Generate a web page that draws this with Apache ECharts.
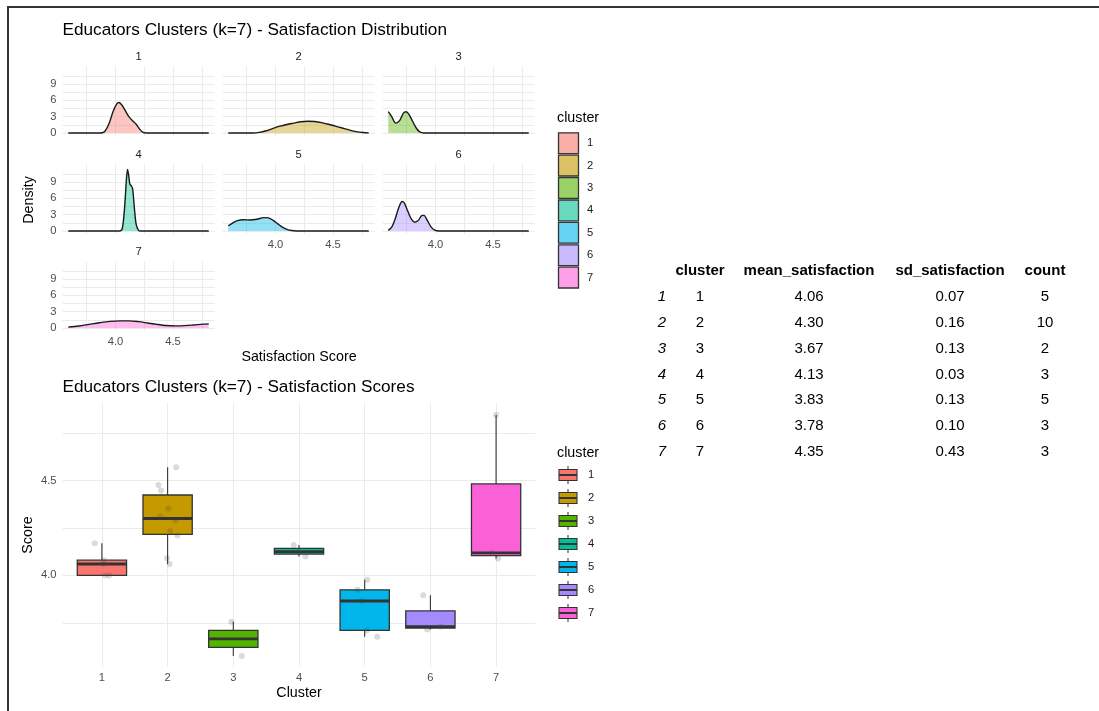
<!DOCTYPE html>
<html>
<head>
<meta charset="utf-8">
<script src="https://cdn.jsdelivr.net/npm/echarts@6/dist/echarts.min.js"></script>
<style>
  html, body { margin: 0; padding: 0; background: #ffffff; }
  #chart { width: 1099px; height: 711px; }
</style>
</head>
<body>
<div id="chart"></div>
<script>
// ---- cluster identity ----
const clusters = ['1', '2', '3', '4', '5', '6', '7'];
const clusterColors = ['#F8766D', '#C49A00', '#53B400', '#00C094', '#00B6EB', '#A58AFF', '#FB61D7'];

// ---- estimated satisfaction densities per cluster: [score, density] ----
const density1 = [[3.59,0],[3.86,0],[3.90,0.15],[3.94,1.5],[3.98,4.0],[4.01,5.3],[4.03,5.6],[4.06,5.0],[4.09,3.9],[4.12,2.9],[4.15,2.2],[4.18,1.6],[4.21,0.7],[4.24,0.1],[4.27,0],[4.81,0]];
const density2 = [[3.59,0],[3.80,0],[3.86,0.1],[3.92,0.4],[3.98,0.85],[4.04,1.25],[4.10,1.55],[4.16,1.8],[4.22,2.05],[4.28,2.15],[4.34,2.1],[4.40,1.9],[4.46,1.6],[4.52,1.25],[4.58,0.9],[4.64,0.55],[4.70,0.25],[4.76,0.08],[4.81,0.02]];
const density3 = [[3.59,3.9],[3.62,3.0],[3.655,1.8],[3.69,2.3],[3.72,3.6],[3.745,3.9],[3.77,3.4],[3.80,2.2],[3.83,1.0],[3.86,0.25],[3.90,0],[4.81,0]];
const density4 = [[3.59,0],[4.04,0],[4.06,0.5],[4.08,4.5],[4.095,9.5],[4.105,11.3],[4.115,10.2],[4.125,8.6],[4.14,8.2],[4.15,7.6],[4.165,4.0],[4.18,1.2],[4.20,0.1],[4.22,0],[4.81,0]];
const density5 = [[3.59,0.95],[3.63,1.5],[3.67,1.9],[3.72,2.05],[3.78,2.0],[3.84,2.15],[3.90,2.45],[3.94,2.4],[3.98,1.95],[4.02,1.3],[4.06,0.7],[4.10,0.3],[4.14,0.08],[4.18,0],[4.81,0]];
const density6 = [[3.59,0.1],[3.62,0.7],[3.65,2.2],[3.68,4.2],[3.71,5.4],[3.73,5.1],[3.76,3.6],[3.79,2.2],[3.82,1.6],[3.85,1.9],[3.88,2.8],[3.90,2.85],[3.93,1.9],[3.96,0.8],[3.99,0.2],[4.03,0],[4.81,0]];
const density7 = [[3.59,0.15],[3.68,0.35],[3.77,0.65],[3.86,0.95],[3.95,1.2],[4.04,1.3],[4.12,1.3],[4.20,1.15],[4.28,0.9],[4.36,0.65],[4.44,0.45],[4.52,0.38],[4.60,0.42],[4.68,0.55],[4.76,0.7],[4.81,0.75]];
const densityCurves = [density1, density2, density3, density4, density5, density6, density7];

// ---- facet axis ticks ----
const densityXGrid = [3.75, 4.0, 4.25, 4.5, 4.75];
const densityXLabels = [4.0, 4.5];
const densityYGrid = [0, 1.5, 3, 4.5, 6, 7.5, 9, 10.5];
const densityYLabels = [0, 3, 6, 9];

// ---- boxplot statistics per cluster: [min, Q1, median, Q3, max] ----
const boxStats = [
  [4.00, 4.00, 4.06, 4.08, 4.17],
  [4.06, 4.216, 4.30, 4.424, 4.57],
  [3.575, 3.62, 3.665, 3.71, 3.755],
  [4.10, 4.1125, 4.125, 4.1425, 4.16],
  [3.676, 3.71, 3.865, 3.924, 3.977],
  [3.715, 3.7225, 3.73, 3.8125, 3.895],
  [4.089, 4.104, 4.119, 4.4825, 4.846]
];

// ---- individual educator scores and their horizontal jitter ----
const scores = [
  [4.00, 4.00, 4.06, 4.08, 4.17],
  [4.06, 4.09, 4.21, 4.234, 4.29, 4.31, 4.353, 4.447, 4.477, 4.57],
  [3.575, 3.755],
  [4.10, 4.125, 4.16],
  [3.676, 3.71, 3.865, 3.924, 3.977],
  [3.715, 3.73, 3.895],
  [4.089, 4.119, 4.846]
];
const jitter = [
  [0.11, 0.05, 0.02, 0.03, -0.11],
  [0.03, -0.01, 0.15, 0.04, 0.12, -0.11, 0.01, -0.10, -0.14, 0.13],
  [0.13, -0.03],
  [0.10, 0.0, -0.08],
  [0.19, 0.03, -0.05, -0.11, 0.04],
  [-0.05, 0.16, -0.11],
  [0.03, -0.06, 0.0]
];

const scoreGrid = [3.75, 4.0, 4.25, 4.5, 4.75];
const scoreLabels = [4.0, 4.5];
const clusterPositions = [1, 2, 3, 4, 5, 6, 7];

// ---- summary table ----
const tableHeader = ['cluster', 'mean_satisfaction', 'sd_satisfaction', 'count'];
const meanSatisfaction = ['4.06', '4.30', '3.67', '4.13', '3.83', '3.78', '4.35'];
const sdSatisfaction = ['0.07', '0.16', '0.13', '0.03', '0.13', '0.10', '0.43'];
const clusterCount = ['5', '10', '2', '3', '5', '3', '3'];

// ---- drawing ----
const FONT = '"Liberation Sans", Arial, Helvetica, sans-serif';
const GRID_COLOR = '#ebebeb';
const TICK_COLOR = '#4d4d4d';
const TITLE_SIZE = 17.2, AXIS_TITLE_SIZE = 14.3, SMALL_SIZE = 11.2;

function alpha(hex, a) {
  const n = parseInt(hex.slice(1), 16);
  return 'rgba(' + ((n >> 16) & 255) + ',' + ((n >> 8) & 255) + ',' + (n & 255) + ',' + a + ')';
}

const chart = echarts.init(document.getElementById('chart'), null, { renderer: 'canvas' });

const facetLefts = [62.5, 222.5, 382.5];
const facetTops = [66.6, 164.6, 261.6];
const facetW = 152, facetH = 69.5;

const grids = [], xAxes = [], yAxes = [], series = [], graphics = [];

clusters.forEach((c, i) => {
  const col = i % 3, row = Math.floor(i / 3);
  const left = facetLefts[col], top = facetTops[row];
  grids.push({ left: left, top: top, width: facetW, height: facetH, containLabel: false });
  const showX = (i >= 4);
  xAxes.push({
    type: 'value', gridIndex: i, min: 3.54, max: 4.86,
    axisLine: { show: false },
    axisTick: { show: false, customValues: densityXGrid },
    axisLabel: { show: showX, customValues: densityXLabels, formatter: v => v.toFixed(1),
      color: TICK_COLOR, fontSize: SMALL_SIZE, fontFamily: FONT, margin: 5 },
    splitLine: { show: true, lineStyle: { color: GRID_COLOR, width: 1 } }
  });
  yAxes.push({
    type: 'value', gridIndex: i, min: -0.58, max: 12.18,
    axisLine: { show: false },
    axisTick: { show: false, customValues: densityYGrid },
    axisLabel: { show: col === 0, customValues: densityYLabels, color: TICK_COLOR, fontSize: SMALL_SIZE,
      fontFamily: FONT, margin: 6 },
    splitLine: { show: true, lineStyle: { color: GRID_COLOR, width: 1 } }
  });
  series.push({
    type: 'line', xAxisIndex: i, yAxisIndex: i, data: densityCurves[i],
    smooth: 0.3, symbol: 'none', silent: true,
    lineStyle: { color: '#1a1a1a', width: 1.4 },
    areaStyle: { color: alpha(clusterColors[i], 0.6) },
    z: 3
  });
  // facet strip label
  graphics.push({
    type: 'text', x: left + facetW / 2, y: top - 9.5,
    style: { text: c, fill: '#1a1a1a', font: SMALL_SIZE + 'px ' + FONT, textAlign: 'center', textVerticalAlign: 'middle' }
  });
});

// boxplot grid
const BOX = 7;
grids.push({ left: 62.5, top: 403, width: 473, height: 264 });
xAxes.push({
  type: 'value', gridIndex: BOX, min: 0.4, max: 7.6,
  axisLine: { show: false },
  axisTick: { show: false, customValues: clusterPositions },
  axisLabel: { customValues: clusterPositions, formatter: v => clusters[Math.round(v) - 1],
    color: TICK_COLOR, fontSize: SMALL_SIZE, fontFamily: FONT, margin: 5 },
  splitLine: { show: true, lineStyle: { color: GRID_COLOR, width: 1 } },
  name: 'Cluster', nameLocation: 'middle', nameGap: 19,
  nameTextStyle: { color: '#000', fontSize: AXIS_TITLE_SIZE, fontFamily: FONT }
});
yAxes.push({
  type: 'value', gridIndex: BOX, min: 3.517, max: 4.909,
  axisLine: { show: false },
  axisTick: { show: false, customValues: scoreGrid },
  axisLabel: { customValues: scoreLabels, formatter: v => v.toFixed(1),
    color: TICK_COLOR, fontSize: SMALL_SIZE, fontFamily: FONT, margin: 6 },
  splitLine: { show: true, lineStyle: { color: GRID_COLOR, width: 1 } },
  name: 'Score', nameLocation: 'middle', nameGap: 27, nameRotate: 90,
  nameTextStyle: { color: '#000', fontSize: AXIS_TITLE_SIZE, fontFamily: FONT }
});

const BOX_HALF = 0.375;
series.push({
  type: 'custom', xAxisIndex: BOX, yAxisIndex: BOX, silent: true,
  data: boxStats.map((s, i) => ({ value: [clusterPositions[i]].concat(s), itemStyle: { color: clusterColors[i] } })),
  encode: { x: 0, y: [1, 2, 3, 4, 5] },
  renderItem: function (params, api) {
    const x = api.value(0);
    const lo = api.coord([x, api.value(1)]);
    const q1 = api.coord([x, api.value(2)]);
    const q3 = api.coord([x, api.value(4)]);
    const hi = api.coord([x, api.value(5)]);
    const bl = api.coord([x - BOX_HALF, api.value(2)]);
    const tr = api.coord([x + BOX_HALF, api.value(4)]);
    const ml = api.coord([x - BOX_HALF, api.value(3)]);
    const mr = api.coord([x + BOX_HALF, api.value(3)]);
    const stroke = '#333333';
    return {
      type: 'group',
      children: [
        { type: 'line', shape: { x1: q3[0], y1: q3[1], x2: hi[0], y2: hi[1] }, style: { stroke: stroke, lineWidth: 1.1 } },
        { type: 'line', shape: { x1: q1[0], y1: q1[1], x2: lo[0], y2: lo[1] }, style: { stroke: stroke, lineWidth: 1.1 } },
        { type: 'rect', shape: { x: bl[0], y: tr[1], width: tr[0] - bl[0], height: bl[1] - tr[1] },
          style: { fill: api.visual('color'), stroke: stroke, lineWidth: 1.3 } },
        { type: 'line', shape: { x1: ml[0], y1: ml[1], x2: mr[0], y2: mr[1] }, style: { stroke: stroke, lineWidth: 2.8 } }
      ]
    };
  },
  z: 2
});

const pointData = [];
scores.forEach((arr, i) => arr.forEach((v, j) => pointData.push([clusterPositions[i] + jitter[i][j], v])));
series.push({
  type: 'scatter', xAxisIndex: BOX, yAxisIndex: BOX, data: pointData, silent: true,
  symbolSize: 6, itemStyle: { color: 'rgba(70,70,70,0.25)' }, z: 4
});

// ---- titles and axis titles ----
graphics.push({ type: 'text', x: 62.5, y: 30, style: { text: 'Educators Clusters (k=7) - Satisfaction Distribution',
  fill: '#000', font: TITLE_SIZE + 'px ' + FONT, textVerticalAlign: 'middle' } });
graphics.push({ type: 'text', x: 62.5, y: 387, style: { text: 'Educators Clusters (k=7) - Satisfaction Scores',
  fill: '#000', font: TITLE_SIZE + 'px ' + FONT, textVerticalAlign: 'middle' } });
graphics.push({ type: 'text', x: 28.6, y: 200, rotation: Math.PI / 2, style: { text: 'Density',
  fill: '#000', font: AXIS_TITLE_SIZE + 'px ' + FONT, textAlign: 'center', textVerticalAlign: 'middle' } });
graphics.push({ type: 'text', x: 299, y: 357, style: { text: 'Satisfaction Score',
  fill: '#000', font: AXIS_TITLE_SIZE + 'px ' + FONT, textAlign: 'center', textVerticalAlign: 'middle' } });

// ---- density legend ----
graphics.push({ type: 'text', x: 557, y: 118, style: { text: 'cluster', fill: '#000', font: AXIS_TITLE_SIZE + 'px ' + FONT, textVerticalAlign: 'middle' } });
clusters.forEach((c, i) => {
  const y = 132 + i * 22.4;
  graphics.push({ type: 'rect', shape: { x: 558.5, y: y + 0.8, width: 20, height: 20.8 },
    style: { fill: alpha(clusterColors[i], 0.6), stroke: '#333', lineWidth: 1.3 } });
  graphics.push({ type: 'text', x: 587, y: y + 11.2, style: { text: c, fill: '#1a1a1a', font: SMALL_SIZE + 'px ' + FONT, textVerticalAlign: 'middle' } });
});

// ---- boxplot legend ----
graphics.push({ type: 'text', x: 557, y: 453, style: { text: 'cluster', fill: '#000', font: AXIS_TITLE_SIZE + 'px ' + FONT, textVerticalAlign: 'middle' } });
clusters.forEach((c, i) => {
  const cy = 475 + i * 23, cx = 568;
  graphics.push({ type: 'line', shape: { x1: cx, y1: cy - 9, x2: cx, y2: cy + 9 }, style: { stroke: '#333', lineWidth: 1 } });
  graphics.push({ type: 'rect', shape: { x: cx - 9, y: cy - 5.5, width: 18, height: 11 },
    style: { fill: clusterColors[i], stroke: '#333', lineWidth: 1.1 } });
  graphics.push({ type: 'line', shape: { x1: cx - 9, y1: cy, x2: cx + 9, y2: cy }, style: { stroke: '#333', lineWidth: 2 } });
  graphics.push({ type: 'text', x: 588, y: cy, style: { text: c, fill: '#1a1a1a', font: SMALL_SIZE + 'px ' + FONT, textVerticalAlign: 'middle' } });
});

// ---- summary table ----
const colCenters = [700, 809, 950, 1045];
const headerY = 270.5, rowY0 = 296.7, rowStep = 25.9;
tableHeader.forEach((h, k) => {
  graphics.push({ type: 'text', x: colCenters[k], y: headerY, style: { text: h, fill: '#000',
    font: 'bold 15px ' + FONT, textAlign: 'center', textVerticalAlign: 'middle' } });
});
clusters.forEach((c, i) => {
  const y = rowY0 + i * rowStep;
  graphics.push({ type: 'text', x: 662, y: y, style: { text: String(i + 1), fill: '#000',
    font: 'italic 15px ' + FONT, textAlign: 'center', textVerticalAlign: 'middle' } });
  [c, meanSatisfaction[i], sdSatisfaction[i], clusterCount[i]].forEach((v, k) => {
    graphics.push({ type: 'text', x: colCenters[k], y: y, style: { text: v, fill: '#000',
      font: '15px ' + FONT, textAlign: 'center', textVerticalAlign: 'middle' } });
  });
});

// ---- outer frame ----
graphics.push({ type: 'rect', shape: { x: 8, y: 7, width: 1200, height: 800 },
  style: { fill: 'none', stroke: '#333', lineWidth: 2 }, silent: true });

chart.setOption({
  backgroundColor: '#ffffff',
  animation: false,
  grid: grids,
  xAxis: xAxes,
  yAxis: yAxes,
  series: series,
  graphic: { elements: graphics }
});
</script>
</body>
</html>
